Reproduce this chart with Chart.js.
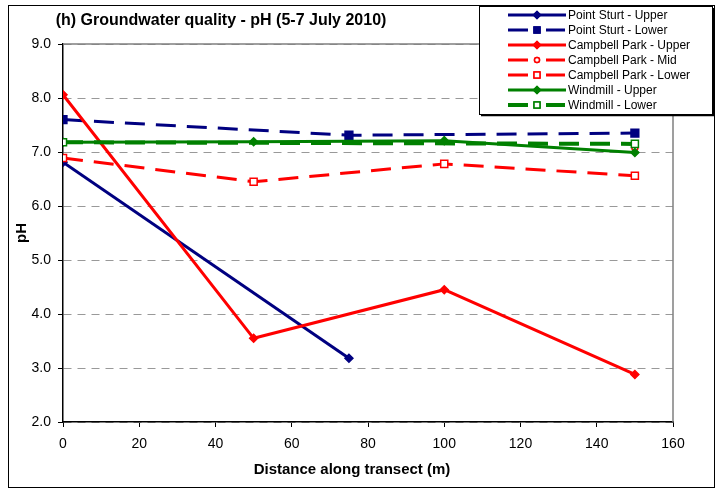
<!DOCTYPE html>
<html>
<head>
<meta charset="utf-8">
<script src="https://cdn.jsdelivr.net/npm/chart.js@4/dist/chart.umd.min.js"></script>
<style>
html,body{margin:0;padding:0;background:#fff;}
#wrap{position:relative;width:722px;height:496px;}
</style>
</head>
<body>
<div id="wrap"><canvas id="c" width="722" height="496"></canvas></div>
<script>
// ---- data ----
const chartTitle = "(h) Groundwater quality - pH (5-7 July 2010)";
const xTitle = "Distance along transect (m)";
const yTitle = "pH";
const seriesNames = ["Point Sturt - Upper","Point Sturt - Lower","Campbell Park - Upper","Campbell Park - Mid","Campbell Park - Lower","Windmill - Upper","Windmill - Lower"];

const psUpperX = [0, 75];
const psUpperY = [6.81, 3.18];
const psLowerX = [0, 75, 150];
const psLowerY = [7.60, 7.31, 7.35];
const cpUpperX = [0, 50, 100, 150];
const cpUpperY = [8.06, 3.55, 4.45, 2.88];
const cpMidX = [150];
const cpMidY = [7.08];
const cpLowerX = [0, 50, 100, 150];
const cpLowerY = [6.89, 6.45, 6.78, 6.56];
const wmUpperX = [0, 50, 100, 150];
const wmUpperY = [7.18, 7.19, 7.21, 6.99];
const wmLowerX = [0, 150];
const wmLowerY = [7.18, 7.15];

const xTicks = [0, 20, 40, 60, 80, 100, 120, 140, 160];
const yTicks = [2.0, 3.0, 4.0, 5.0, 6.0, 7.0, 8.0, 9.0];

// ---- styles ----
const NAVY = '#000080', RED = '#FF0000', GREEN = '#008000';
const styles = [
  {color: NAVY, dash: [], width: 3, ps: 'rectRot', r: 4, fill: NAVY},
  {color: NAVY, dash: [20, 11], width: 3, ps: 'rect', r: 5.5, fill: NAVY},
  {color: RED, dash: [], width: 3, ps: 'rectRot', r: 4, fill: RED},
  {color: RED, dash: [20, 11], width: 3, ps: 'circle', r: 3, fill: '#fff'},
  {color: RED, dash: [20, 11], width: 3, ps: 'rect', r: 5, fill: '#fff'},
  {color: GREEN, dash: [], width: 3, ps: 'rectRot', r: 4, fill: GREEN},
  {color: GREEN, dash: [20, 11], width: 4, ps: 'rect', r: 5, fill: '#fff'}
];
const xs = [psUpperX, psLowerX, cpUpperX, cpMidX, cpLowerX, wmUpperX, wmLowerX];
const ys = [psUpperY, psLowerY, cpUpperY, cpMidY, cpLowerY, wmUpperY, wmLowerY];

const datasets = seriesNames.map((name, i) => ({
  label: name,
  data: xs[i].map((x, k) => ({x: x, y: ys[i][k]})),
  borderColor: styles[i].color,
  borderWidth: styles[i].width,
  borderDash: styles[i].dash,
  pointStyle: styles[i].ps,
  pointRadius: styles[i].r,
  pointBackgroundColor: styles[i].fill,
  pointBorderColor: styles[i].color,
  pointBorderWidth: 1.5,
  tension: 0,
  fill: false,
  order: seriesNames.length - i
}));

const FONT = 'Arial, "Liberation Sans", sans-serif';
Chart.defaults.font.family = FONT;
Chart.defaults.color = '#000';

const decor = {
  id: 'decor',
  beforeDraw(chart) {
    const ctx = chart.ctx;
    ctx.save();
    ctx.fillStyle = '#fff';
    ctx.fillRect(0, 0, chart.width, chart.height);
    ctx.restore();
  },
  afterDraw(chart) {
    const ctx = chart.ctx;
    const a = chart.chartArea;
    ctx.save();
    // plot area top/right border (gray)
    ctx.strokeStyle = '#808080';
    ctx.lineWidth = 1.5;
    ctx.setLineDash([]);
    ctx.beginPath();
    ctx.moveTo(a.left, a.top);
    ctx.lineTo(a.right, a.top);
    ctx.lineTo(a.right, a.bottom);
    ctx.stroke();
    // outer border
    ctx.strokeStyle = '#000';
    ctx.lineWidth = 1;
    ctx.strokeRect(8.5, 5.5, 706, 482);
    // title
    ctx.fillStyle = '#000';
    ctx.font = 'bold 16px ' + FONT;
    ctx.textAlign = 'center';
    ctx.textBaseline = 'middle';
    ctx.fillText(chartTitle, 221, 21);
    // x axis title
    ctx.font = 'bold 15px ' + FONT;
    ctx.fillText(xTitle, 352, 470);
    // legend box
    ctx.fillStyle = '#fff';
    ctx.fillRect(479.5, 6.5, 233, 108);
    ctx.strokeStyle = '#000';
    ctx.lineWidth = 1;
    ctx.strokeRect(479.5, 6.5, 233, 108);
    ctx.beginPath();
    ctx.lineWidth = 1.5;
    ctx.moveTo(481, 115.5); ctx.lineTo(713.5, 115.5); ctx.lineTo(713.5, 8);
    ctx.stroke();
    ctx.font = '12px ' + FONT;
    ctx.textAlign = 'left';
    ctx.textBaseline = 'middle';
    seriesNames.forEach((name, i) => {
      const st = styles[i];
      const y = 15 + i * 15;
      ctx.strokeStyle = st.color;
      ctx.lineWidth = st.width;
      ctx.setLineDash([]);
      ctx.beginPath();
      if (st.dash.length) {
        ctx.moveTo(508, y); ctx.lineTo(528, y);
        ctx.moveTo(546, y); ctx.lineTo(565, y);
      } else {
        ctx.moveTo(508, y); ctx.lineTo(566, y);
      }
      ctx.stroke();
      ctx.lineWidth = 1.5;
      Chart.helpers.drawPoint(ctx, {
        pointStyle: st.ps,
        radius: st.ps === 'circle' ? 2.5 : (st.ps === 'rect' ? 4.2 : 3.5),
        borderWidth: 1.5
      }, 537, y);
      ctx.fillStyle = st.fill;
      ctx.fill();
      ctx.stroke();
      ctx.fillStyle = '#000';
      ctx.fillText(name, 568, y + 0.5);
    });
    ctx.restore();
  }
};

new Chart(document.getElementById('c'), {
  type: 'line',
  data: {datasets: datasets},
  options: {
    responsive: false,
    animation: false,
    layout: {padding: {top: 44, right: 49, bottom: 0, left: 0}},
    plugins: {legend: {display: false}, title: {display: false}, tooltip: {enabled: false}},
    scales: {
      x: {
        type: 'linear',
        min: 0, max: 160,
        afterFit(s) { s.height = 74; },
        afterBuildTicks(s) { s.ticks = xTicks.map(v => ({value: v})); },
        ticks: {font: {size: 14}, padding: 9, maxRotation: 0, callback: v => String(v)},
        grid: {drawOnChartArea: false, drawTicks: true, tickLength: 5, tickColor: '#000', tickWidth: 1},
        border: {display: true, color: '#000', width: 1.5},
        title: {display: false}
      },
      y: {
        type: 'linear',
        min: 2, max: 9,
        afterFit(s) { s.width = 63; },
        afterBuildTicks(s) { s.ticks = yTicks.map(v => ({value: v})); },
        ticks: {font: {size: 14}, padding: 7, callback: v => Number(v).toFixed(1)},
        grid: {drawOnChartArea: true, drawTicks: true, tickLength: 5, tickColor: '#000', tickWidth: 1, color: '#999', lineWidth: 1, tickBorderDash: []},
        border: {display: true, color: '#000', width: 1.5, dash: [8, 6]},
        title: {display: true, text: yTitle, font: {size: 15, weight: 'bold'}, padding: {top: 13, bottom: 0}}
      }
    }
  },
  plugins: [decor]
});
</script>
</body>
</html>
